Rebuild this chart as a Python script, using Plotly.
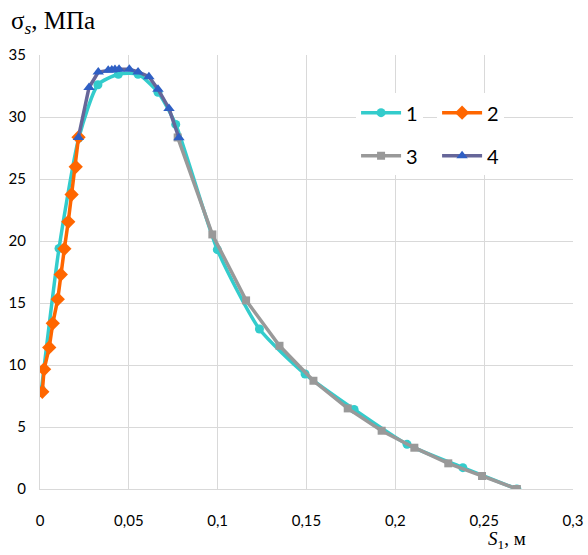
import plotly.graph_objects as go

# Series 1 (cyan, circles)
s1_x = [0.0008, 0.0107, 0.0218, 0.0326, 0.0441, 0.0552, 0.0664, 0.0764, 0.0998, 0.1235, 0.1492, 0.1768, 0.2066, 0.2380, 0.2684]
s1_y = [8.0, 19.4, 28.3, 32.6, 33.45, 33.45, 32.0, 29.4, 19.3, 12.9, 9.27, 6.42, 3.60, 1.72, 0.0]
# Series 2 (orange, diamonds)
s2_x = [0.0013, 0.0023, 0.0052, 0.0072, 0.0100, 0.0117, 0.0137, 0.0159, 0.0178, 0.0201, 0.0217]
s2_y = [7.84, 9.65, 11.42, 13.36, 15.31, 17.30, 19.37, 21.55, 23.75, 25.98, 28.37]
# Series 3 (grey, squares)
s3_x = [0.0775, 0.0970, 0.1160, 0.1348, 0.1539, 0.1732, 0.1923, 0.2107, 0.2298, 0.2488, 0.2684]
s3_y = [28.35, 20.53, 15.21, 11.55, 8.73, 6.50, 4.70, 3.33, 2.07, 1.05, 0.0]
# Series 4 (purple line, blue triangles)
s4_x = [0.0216, 0.0276, 0.0328, 0.0384, 0.0404, 0.0422, 0.0445, 0.0503, 0.0552, 0.0613, 0.0664, 0.0726, 0.0782]
s4_y = [28.35, 32.38, 33.63, 33.77, 33.80, 33.83, 33.85, 33.85, 33.63, 33.25, 32.24, 30.68, 28.32]

names = ["1", "2", "3", "4"]
x_ticks = [0, 0.05, 0.1, 0.15, 0.2, 0.25, 0.3]
y_ticks = [0, 5, 10, 15, 20, 25, 30, 35]

FONT = "Lato"
SERIF = "Liberation Serif"

fig = go.Figure()
fig.add_trace(go.Scatter(x=s1_x, y=s1_y, name=names[0], mode="lines+markers",
                         line=dict(color="#33CCCC", width=3.5, shape="spline", smoothing=0.6),
                         marker=dict(symbol="circle", size=9, color="#33CCCC"),
                         legend="legend", legendgroup="a"))
fig.add_trace(go.Scatter(x=s2_x, y=s2_y, name=names[1], mode="lines+markers",
                         line=dict(color="#FF6600", width=3.5),
                         marker=dict(symbol="diamond", size=11, color="#FF6600"),
                         legend="legend2", legendgroup="b"))
fig.add_trace(go.Scatter(x=s3_x, y=s3_y, name=names[2], mode="lines+markers",
                         line=dict(color="#999999", width=3.5),
                         marker=dict(symbol="square", size=8, color="#999999"),
                         legend="legend", legendgroup="c"))
fig.add_trace(go.Scatter(x=s4_x, y=s4_y, name=names[3], mode="lines+markers",
                         line=dict(color="#666699", width=3.5),
                         marker=dict(symbol="triangle-up", size=10, color="#2F5FC4"),
                         legend="legend2", legendgroup="d"))

leg_common = dict(bgcolor="white", font=dict(family=FONT, size=20, color="#000000"),
                  tracegroupgap=14, yanchor="top", xanchor="left", itemwidth=40)
fig.update_layout(
    width=588, height=555,
    margin=dict(l=40, r=15, t=55, b=66, autoexpand=False),
    paper_bgcolor="white", plot_bgcolor="white",
    separators=", ",
    font=dict(family=FONT, size=15, color="#000000"),
    legend=dict(x=0.593, y=0.912, **leg_common),
    legend2=dict(x=0.745, y=0.912, **leg_common),
    xaxis=dict(range=[0, 0.3], tickvals=x_ticks, ticktext=[str(v).replace(".", ",") for v in x_ticks],
               showgrid=True, gridcolor="#D9D9D9", gridwidth=1, automargin=False,
               showline=True, linecolor="#D9D9D9", zeroline=False,
               ticks="", ticklabelstandoff=18, tickfont=dict(family=FONT, size=15)),
    yaxis=dict(range=[0, 35], tickvals=y_ticks, automargin=False,
               showgrid=True, gridcolor="#D9D9D9", gridwidth=1,
               showline=True, linecolor="#D9D9D9", zeroline=False,
               ticks="", ticklabelstandoff=10, tickfont=dict(family=FONT, size=15)),
)
fig.add_annotation(text="σ<sub><i>s</i></sub>, МПа", xref="paper", yref="paper",
                   x=-0.058, y=1.075, xanchor="left", yanchor="middle", showarrow=False,
                   font=dict(family=SERIF, size=25, color="#000000"))
fig.add_annotation(text="<i>S</i><sub>1</sub>, м", xref="paper", yref="paper",
                   x=0.836, y=-0.118, xanchor="left", yanchor="middle", showarrow=False,
                   font=dict(family=SERIF, size=19, color="#000000"))

fig.write_html("out.html", config={"displayModeBar": False},
               post_script="document.body.style.margin='0';document.body.style.padding='0';")
